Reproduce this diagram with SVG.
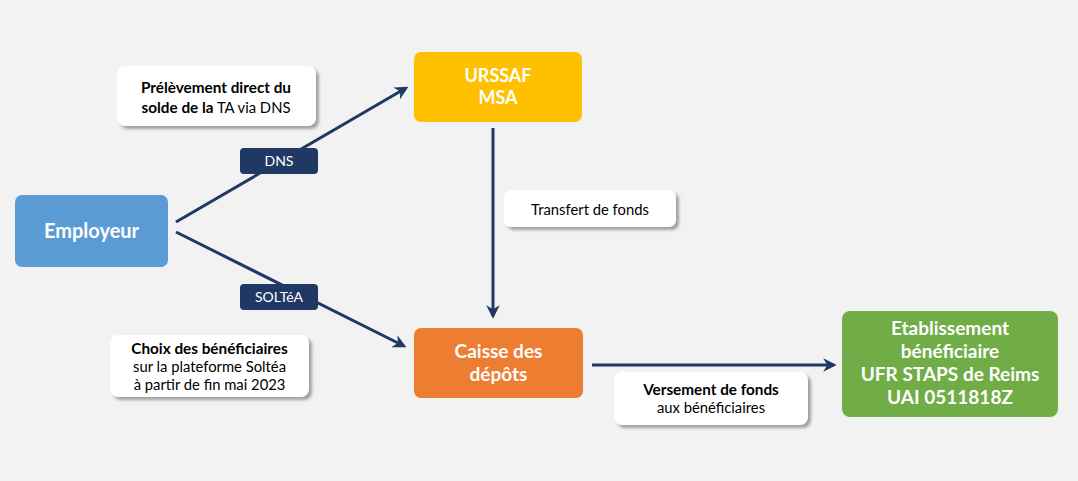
<svg xmlns="http://www.w3.org/2000/svg" width="1078" height="481" viewBox="0 0 1078 481">
<defs>
<style>
.node text{font-family:Lato,"Liberation Sans",sans-serif;font-weight:bold;fill:#fff;text-anchor:middle}
.lbl text{font-family:Lato,"Liberation Sans",sans-serif;fill:#000;text-anchor:middle;font-size:14.8px}
.lbl rect{fill:#fff;filter:url(#sh)}
.tag rect{fill:#203864}
.tag text{font-family:Lato,"Liberation Sans",sans-serif;fill:#fff;text-anchor:middle;font-size:14px}
.b{font-weight:bold;font-size:15.3px}
.conn line{stroke:#203864;stroke-width:3;marker-end:url(#ah)}
</style>
<marker id="ah" viewBox="0 0 10 10" refX="8" refY="5" markerWidth="4.5" markerHeight="4.5" orient="auto" markerUnits="strokeWidth">
<path d="M0,0 L10,5 L0,10 L3,5 Z" fill="#203864"/>
</marker>
<filter id="sh" x="-10%" y="-20%" width="125%" height="150%">
<feGaussianBlur in="SourceAlpha" stdDeviation="1.5"/>
<feOffset dx="3" dy="3" result="o"/>
<feFlood flood-color="#8c8c8c" flood-opacity="0.8"/>
<feComposite in2="o" operator="in"/>
<feMerge><feMergeNode/><feMergeNode in="SourceGraphic"/></feMerge>
</filter>
</defs>
<rect width="1078" height="481" fill="#f2f2f2"/>
<g id="connectors" class="conn">
<line x1="176" y1="222" x2="406" y2="88"/>
<line x1="176" y1="232" x2="404" y2="346"/>
<line x1="493" y1="128" x2="493" y2="316"/>
<line x1="592" y1="365" x2="834" y2="365"/>
</g>
<g id="employeur" class="node">
<rect x="15" y="195" width="153" height="72" rx="7" fill="#5b9bd5"/>
<text x="91.5" y="238" font-size="20">Employeur</text>
</g>
<g id="urssaf" class="node">
<rect x="414" y="52" width="168" height="70" rx="7" fill="#ffc000"/>
<text x="498" y="82" font-size="18">URSSAF</text>
<text x="498" y="104" font-size="18">MSA</text>
</g>
<g id="caisse" class="node">
<rect x="414" y="328" width="169" height="70" rx="7" fill="#ed7d31"/>
<text x="498.5" y="358" font-size="19">Caisse des</text>
<text x="498.5" y="381" font-size="19">dépôts</text>
</g>
<g id="etablissement" class="node">
<rect x="842" y="311" width="216" height="106" rx="8" fill="#70ad47"/>
<text x="950" y="335" font-size="19">Etablissement</text>
<text x="950" y="358" font-size="19">bénéficiaire</text>
<text x="950" y="381" font-size="19">UFR STAPS de Reims</text>
<text x="950" y="404" font-size="19">UAI 0511818Z</text>
</g>
<g id="label-prelevement" class="lbl">
<rect x="117" y="66" width="199" height="60" rx="8"/>
<text x="216" y="93"><tspan class="b">Prélèvement direct du</tspan></text>
<text x="216" y="113"><tspan class="b">solde de la</tspan> TA via DNS</text>
</g>
<g id="tag-dns" class="tag">
<rect x="240" y="148" width="78" height="26" rx="4"/>
<text x="279" y="166">DNS</text>
</g>
<g id="tag-soltea" class="tag">
<rect x="240" y="284" width="78" height="26" rx="4"/>
<text x="279" y="302">SOLTéA</text>
</g>
<g id="label-choix" class="lbl">
<rect x="110" y="335" width="199" height="62" rx="8"/>
<text x="209.5" y="354"><tspan class="b">Choix des bénéficiaires</tspan></text>
<text x="209.5" y="372">sur la plateforme Soltéa</text>
<text x="209.5" y="390">à partir de fin mai 2023</text>
</g>
<g id="label-transfert" class="lbl">
<rect x="504" y="190" width="172" height="37" rx="7"/>
<text x="590" y="215">Transfert de fonds</text>
</g>
<g id="label-versement" class="lbl">
<rect x="614" y="372" width="194" height="53" rx="8"/>
<text x="711" y="395"><tspan class="b">Versement de fonds</tspan></text>
<text x="711" y="413">aux bénéficiaires</text>
</g>
</svg>
